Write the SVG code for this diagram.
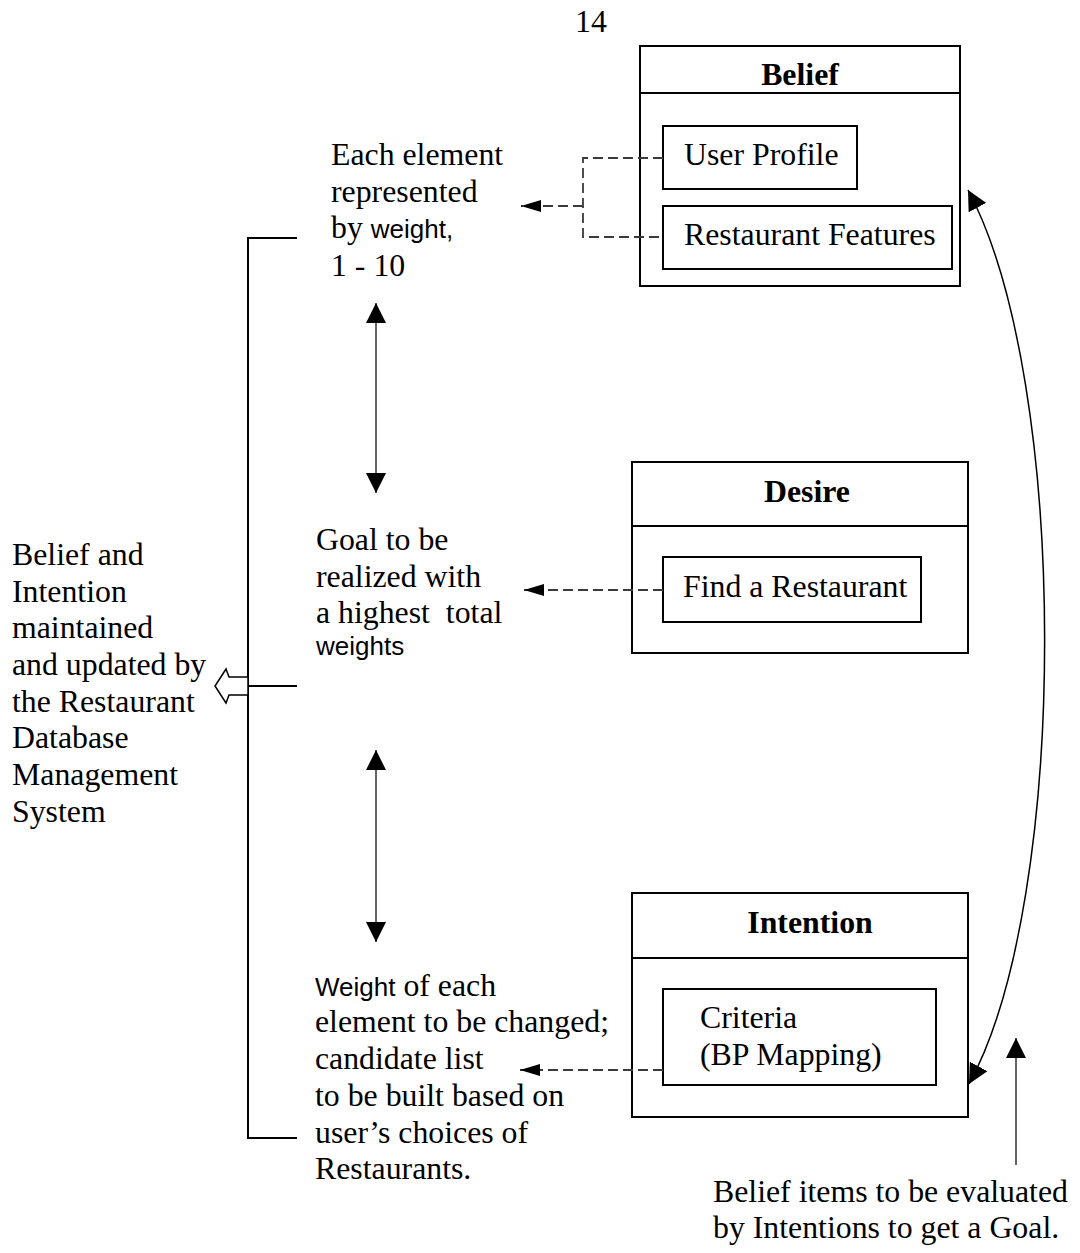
<svg xmlns="http://www.w3.org/2000/svg" width="1080" height="1253" viewBox="0 0 1080 1253">
<style>
.t{font-family:"Liberation Serif","Times New Roman",serif;font-size:31.8px;fill:#000}
.b{font-family:"Liberation Serif","Times New Roman",serif;font-size:31.8px;font-weight:bold;fill:#000}
.s{font-family:"Liberation Sans",Arial,sans-serif;font-size:26px}
.box{fill:#fff;stroke:#000;stroke-width:2}
.ln{fill:none;stroke:#000;stroke-width:2}
.dash{fill:none;stroke:#3a3a3a;stroke-width:1.8;stroke-dasharray:10,5}
.ar{fill:none;stroke:#555;stroke-width:1.8}
.cv{fill:none;stroke:#000;stroke-width:1.5}
</style>
<defs>
<marker id="tri" viewBox="0 0 20 20" refX="20" refY="10" markerWidth="20" markerHeight="20" markerUnits="userSpaceOnUse" orient="auto-start-reverse">
<path d="M0,0 L20,10 L0,20 z" fill="#000"/>
</marker>
<marker id="sm" viewBox="0 0 20 12" refX="20" refY="6" markerWidth="20" markerHeight="12" markerUnits="userSpaceOnUse" orient="auto">
<path d="M0,0 L20,6 L0,12 z" fill="#000"/>
</marker>
</defs>
<rect width="1080" height="1253" fill="#fff"/>
<text class="t" x="591" y="32" text-anchor="middle">14</text>

<g id="belief">
<rect class="box" x="640" y="46" width="320" height="240"/>
<line class="ln" x1="640" y1="93" x2="960" y2="93"/>
<text class="b" x="800" y="85" text-anchor="middle">Belief</text>
<rect class="box" x="663" y="126" width="194" height="63"/>
<text class="t" x="684" y="165">User Profile</text>
<rect class="box" x="663" y="206" width="289" height="63"/>
<text class="t" x="684" y="245">Restaurant Features</text>
</g>

<g id="desire">
<rect class="box" x="632" y="462" width="336" height="191"/>
<line class="ln" x1="632" y1="526" x2="968" y2="526"/>
<text class="b" x="807" y="502" text-anchor="middle">Desire</text>
<rect class="box" x="663" y="557" width="258" height="65"/>
<text class="t" x="683" y="597">Find a Restaurant</text>
</g>

<g id="intention">
<rect class="box" x="632" y="893" width="336" height="224"/>
<line class="ln" x1="632" y1="958" x2="968" y2="958"/>
<text class="b" x="810" y="933" text-anchor="middle">Intention</text>
<rect class="box" x="663" y="989" width="273" height="96"/>
<text class="t" x="700" y="1028">Criteria</text>
<text class="t" x="700" y="1065">(BP Mapping)</text>
</g>

<g id="weights-note">
<text class="t" x="331" y="165">Each element</text>
<text class="t" x="331" y="202">represented</text>
<text class="t" x="331" y="238">by <tspan class="s">weight,</tspan></text>
<text class="t" x="331" y="276">1 - 10</text>
</g>

<g id="goal-note">
<text class="t" x="316" y="550">Goal to be</text>
<text class="t" x="316" y="587">realized with</text>
<text class="t" x="316" y="623" xml:space="preserve">a highest  total</text>
<text class="t" x="316" y="655"><tspan class="s">weights</tspan></text>
</g>

<g id="change-note">
<text class="t" x="315" y="996"><tspan class="s">Weight</tspan> of each</text>
<text class="t" x="315" y="1032">element to be changed;</text>
<text class="t" x="315" y="1069">candidate list</text>
<text class="t" x="315" y="1106">to be built based on</text>
<text class="t" x="315" y="1143">user’s choices of</text>
<text class="t" x="315" y="1179">Restaurants.</text>
</g>

<g id="db-note">
<text class="t" x="12" y="565">Belief and</text>
<text class="t" x="12" y="602">Intention</text>
<text class="t" x="12" y="638">maintained</text>
<text class="t" x="12" y="675">and updated by</text>
<text class="t" x="12" y="712">the Restaurant</text>
<text class="t" x="12" y="748">Database</text>
<text class="t" x="12" y="785">Management</text>
<text class="t" x="12" y="822">System</text>
</g>

<g id="eval-note">
<text class="t" x="713" y="1202">Belief items to be evaluated</text>
<text class="t" x="713" y="1238">by Intentions to get a Goal.</text>
</g>

<g id="connectors">
<path class="dash" d="M663,158 H583 V237 H663"/>
<line class="dash" x1="583" y1="206" x2="521" y2="206" marker-end="url(#sm)"/>
<line class="dash" x1="663" y1="590" x2="524" y2="590" marker-end="url(#sm)"/>
<line class="dash" x1="663" y1="1070" x2="520" y2="1070" marker-end="url(#sm)"/>
<line class="ar" x1="376" y1="303" x2="376" y2="493" marker-start="url(#tri)" marker-end="url(#tri)"/>
<line class="ar" x1="376" y1="750" x2="376" y2="942" marker-start="url(#tri)" marker-end="url(#tri)"/>
<path class="ln" d="M297,238 H248 V1138 H297"/>
<line class="ln" x1="248" y1="686" x2="297" y2="686"/>
<polygon points="248,677 229,677 226,669 215,686 226,703 229,695 248,695" fill="#fff" stroke="#000" stroke-width="1.5"/>
<path class="cv" d="M969,1084 C1070,900 1070,380 968,190" marker-start="url(#tri)" marker-end="url(#tri)"/>
<line class="ar" x1="1016" y1="1165" x2="1016" y2="1038" marker-end="url(#tri)"/>
</g>
</svg>
